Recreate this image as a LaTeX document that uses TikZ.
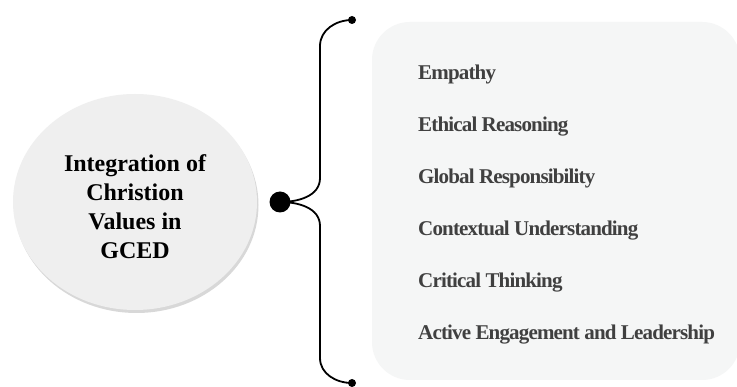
\documentclass[tikz,border=0pt]{standalone}
\usepackage{fontspec}
\setmainfont{Liberation Serif}
\usetikzlibrary{shadows,shapes.geometric}
\definecolor{itemtext}{HTML}{404040}
\definecolor{panelfill}{HTML}{F5F6F6}
\definecolor{ellfill}{HTML}{EFEFEF}
\tikzset{
  hubtext/.style={font=\bfseries\fontsize{24}{29}\selectfont, align=center, text=black},
  item/.style={anchor=base west, font=\bfseries\fontsize{21}{24}\selectfont\addfontfeature{LetterSpace=-4}, text=itemtext, inner sep=0pt},
  dotnode/.style={circle, fill=black, inner sep=0pt},
  brace/.style={line width=1.8pt, black},
}
\begin{document}
\begin{tikzpicture}[x=1pt,y=-1pt]
\useasboundingbox (0,0) rectangle (737,387);
\fill[white] (0,0) rectangle (737,387);
% panel
\node[draw=none, fill=panelfill, rounded corners=38pt, minimum width=368pt, minimum height=358pt, inner sep=0pt] (panel) at (556,201) {};
% ellipse
\node[ellipse, fill=ellfill, minimum width=244pt, minimum height=216pt, inner sep=0pt,
  drop shadow={shadow xshift=1.5pt, shadow yshift=-3pt, opacity=0.3, fill=gray}] (hub) at (135,202) {};
\node[hubtext] (hublabel) at (135,207) {Integration of\\Christion\\Values in\\GCED};
% dots
\node[dotnode, minimum size=21pt] (big) at (280,202) {};
\node[dotnode, minimum size=8pt] (topdot) at (352,20) {};
\node[dotnode, minimum size=8pt] (botdot) at (352,383) {};
\coordinate (v1) at (320,46);
\coordinate (v2) at (320,178);
\coordinate (v3) at (320,226);
\coordinate (v4) at (320,358);
\draw[brace] (topdot.center) to[out=180,in=90] (v1) -- (v2) to[out=-90,in=0] (big.center);
\draw[brace] (big.center) to[out=0,in=90] (v3) -- (v4) to[out=-90,in=180] (botdot.center);
% items
\node[item] (i1) at (418,80) {Empathy};
\node[item] (i2) at (418,132) {Ethical Reasoning};
\node[item] (i3) at (418,184) {Global Responsibility};
\node[item] (i4) at (418,236) {Contextual Understanding};
\node[item] (i5) at (418,288) {Critical Thinking};
\node[item] (i6) at (418,340) {Active Engagement and Leadership};
\end{tikzpicture}
\end{document}
